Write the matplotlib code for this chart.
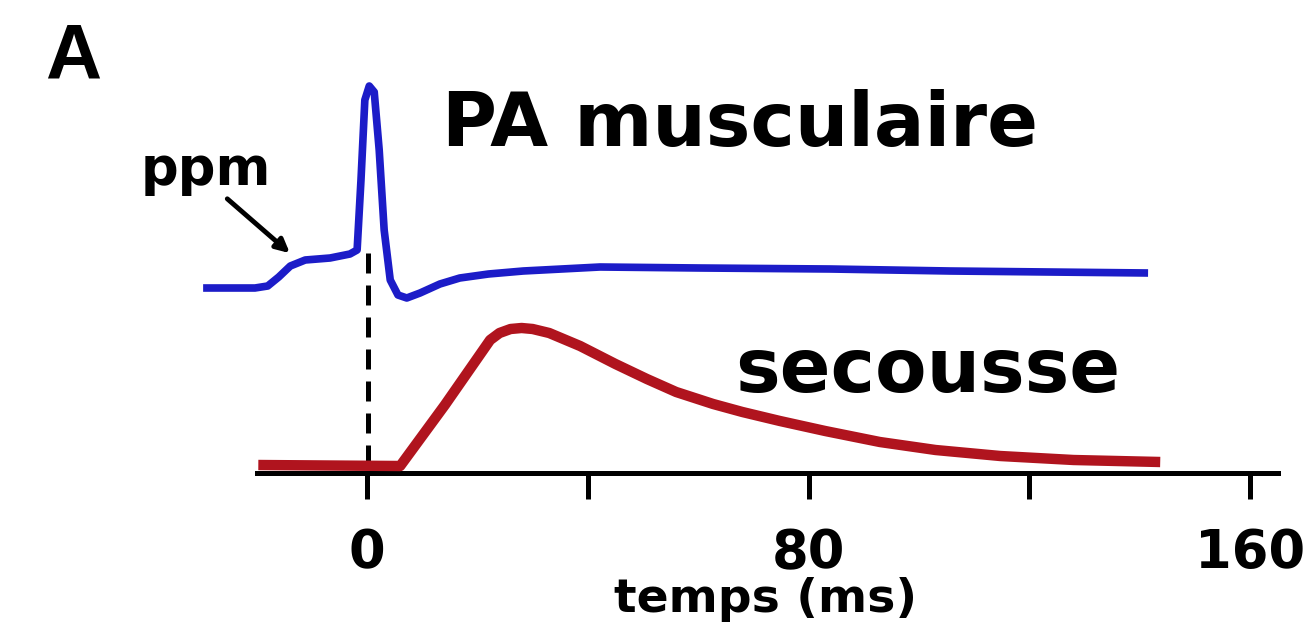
"""PA musculaire et secousse."""
import matplotlib

matplotlib.use("Agg")
import matplotlib.pyplot as plt

# potentiel d'action musculaire (temps en ms, amplitude arbitraire)
pa_t = [-29.7, -20.3, -18.0, -16.0, -13.9, -11.2, -6.7, -3.1, -1.8, -1.1,
        -0.4, 0.4, 1.3, 2.2, 3.1, 4.2, 5.6, 7.2, 9.6, 13.2, 16.8, 22.0, 28.3,
        42.2, 60.3, 83.9, 105.6, 141.5]
pa_v = [185, 185, 187, 196, 207, 213, 215, 219, 223, 293,
        373, 387, 381, 323, 243, 193, 178, 175, 180, 189, 195, 199, 202,
        206, 205, 204, 202, 200]

# secousse musculaire
sec_t = [-19.7, 6.0, 14.1, 22.3, 24.0, 26.0, 28.0, 30.0, 33.0, 38.6, 45.0,
         50.7, 56.0, 62.7, 68.0, 74.8, 83.0, 92.9, 103.0, 114.7, 128.0, 143.7]
sec_v = [8, 7, 68, 133, 140, 144, 145, 144, 140, 127, 109,
         94, 81, 69, 61, 52, 42, 31, 23, 17, 13, 11]

xticks = [0, 40, 80, 120, 160]
xticklabels = ["0", "", "80", "", "160"]

BLUE = "#1c1cc8"
RED = "#b0141e"
FONT = "DejaVu Sans"

fig = plt.figure(figsize=(13.12, 6.43), dpi=100)
ax = fig.add_axes([0, 0, 1, 1])
ax.set_xlim(-66.5, 171.2)
ax.set_ylim(-170, 473)

ax.plot([0.2, 0.2], [8, 228], color="black", lw=3.6, ls=(0, (4, 2.4)),
        zorder=1)
ax.plot(pa_t, pa_v, color=BLUE, lw=5.5, solid_capstyle="butt",
        solid_joinstyle="round", zorder=3)
ax.plot(sec_t, sec_v, color=RED, lw=7.5, solid_capstyle="butt",
        solid_joinstyle="round", zorder=3)

for s in ["top", "right", "left"]:
    ax.spines[s].set_visible(False)
ax.spines["bottom"].set_position(("data", 0))
ax.spines["bottom"].set_bounds(-20, 165)
ax.spines["bottom"].set_linewidth(3.6)
ax.set_yticks([])
ax.set_xticks(xticks)
ax.set_xticklabels(xticklabels, fontsize=38, fontweight="bold", family=FONT)
ax.tick_params(axis="x", direction="out", length=19, width=3.6, pad=20)

ax.text(13.6, 327, "PA musculaire", fontsize=54, fontweight="bold",
        family=FONT, ha="left", va="baseline")
ax.text(66.7, 81, "secousse", fontsize=54, fontweight="bold",
        family=FONT, ha="left", va="baseline")
ax.text(-41.1, 288, "ppm", fontsize=38, fontweight="bold",
        family=FONT, ha="left", va="baseline")
ax.text(72.1, -139, "temps (ms)", fontsize=34, fontweight="bold",
        family=FONT, ha="center", va="baseline")
ax.annotate("", xy=(-13.6, 218), xytext=(-25.7, 276),
            arrowprops=dict(arrowstyle="-|>,head_length=0.8,head_width=0.4",
                            color="black", lw=3.5))

fig.text(45 / 1312, 1 - 22 / 643, "A", fontsize=56, fontweight="bold",
         family="Liberation Sans", ha="left", va="top")

fig.savefig("out.png", dpi=100)
